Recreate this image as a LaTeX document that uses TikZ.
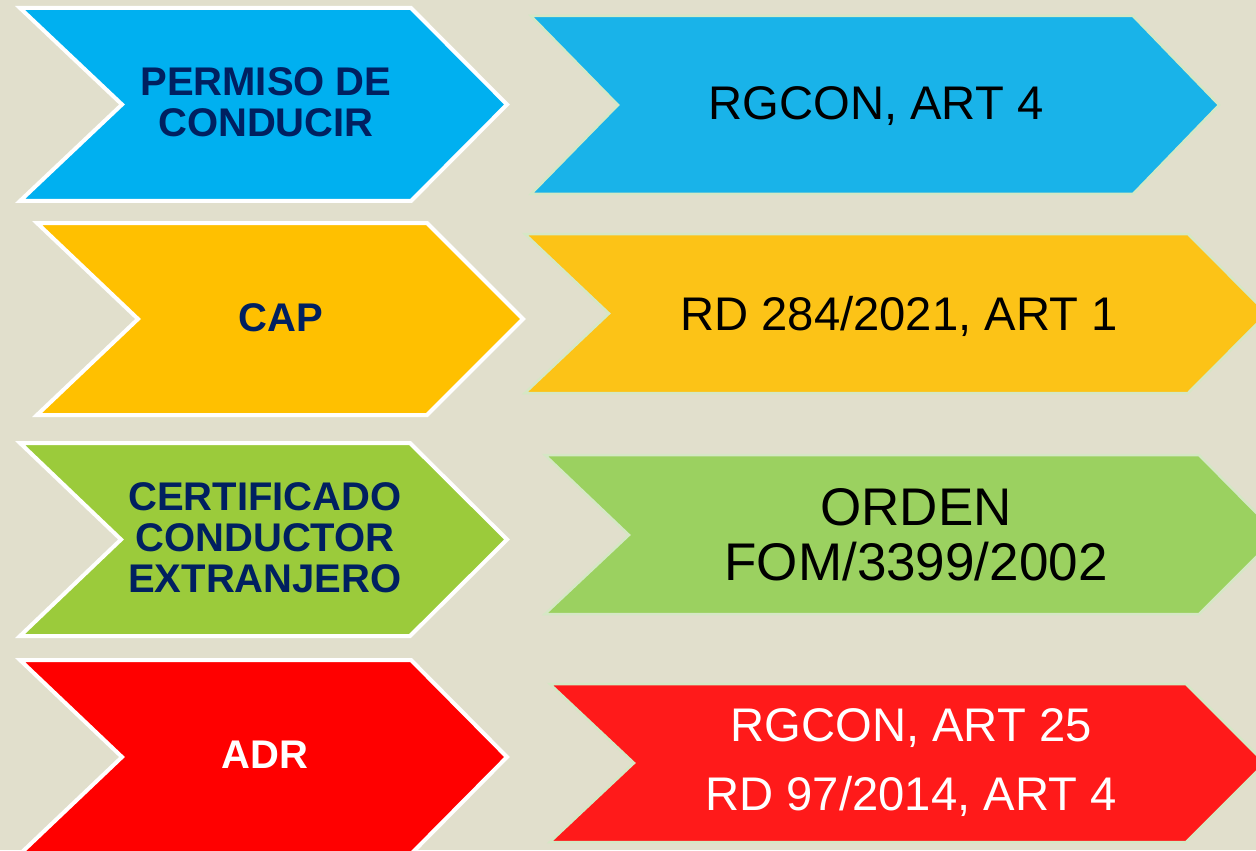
\documentclass[tikz,border=0pt]{standalone}
\usepackage{fontspec}
\setmainfont{Liberation Sans}
\definecolor{bgbeige}{HTML}{E1DFCC}
\definecolor{navytext}{HTML}{002060}
\definecolor{rimgreen}{HTML}{D5E7C5}
\definecolor{blueL}{HTML}{00B0F0}
\definecolor{blueR}{HTML}{19B3E9}
\definecolor{yellowL}{HTML}{FFC000}
\definecolor{yellowR}{HTML}{FCC317}
\definecolor{greenL}{HTML}{9BCB3B}
\definecolor{greenR}{HTML}{9BD160}
\definecolor{redL}{HTML}{FF0000}
\definecolor{redR}{HTML}{FF1A1A}
\tikzset{
  leftarrow/.style={draw=white, line width=2pt, line join=miter},
  rightarrow/.style={draw=rimgreen, line width=1.25pt, line join=miter},
  lefttext/.style={text=navytext, align=center, inner sep=0pt,
    font=\bfseries\fontsize{20}{20.5}\selectfont},
  righttext/.style={text=black, align=center, inner sep=0pt,
    font=\fontsize{23.6}{27}\selectfont}
}
\begin{document}
\begin{tikzpicture}[x=0.5pt,y=-0.5pt]
\useasboundingbox (0,0) rectangle (1256,850);
\fill[bgbeige] (0,0) rectangle (1256,850);
\clip (0,0) rectangle (1256,850);
\path[leftarrow,fill=blueL] (20,8) -- (411,8) -- (507,104.5) -- (411,201) -- (20,201) -- (122,104.5) -- cycle;
\path[leftarrow,fill=yellowL] (37,223) -- (427,223) -- (523,319) -- (427,415) -- (37,415) -- (138,319) -- cycle;
\path[leftarrow,fill=greenL] (20,443) -- (410,443) -- (507,539.5) -- (410,636) -- (20,636) -- (121,539.5) -- cycle;
\path[leftarrow,fill=redL] (20,660) -- (411,660) -- (507,757) -- (411,854) -- (20,854) -- (122,757) -- cycle;
\path[rightarrow,fill=blueR] (531,16) -- (1133,16) -- (1219,105) -- (1133,194) -- (531,194) -- (618,105) -- cycle;
\path[rightarrow,fill=yellowR] (525,234) -- (1188,234) -- (1267,313.5) -- (1188,393) -- (525,393) -- (609,313.5) -- cycle;
\path[rightarrow,fill=greenR] (545,455) -- (1199,455) -- (1278,535) -- (1199,614) -- (545,614) -- (629,535) -- cycle;
\path[rightarrow,fill=redR] (550,684) -- (1186,684) -- (1265,763) -- (1186,842) -- (550,842) -- (634,763) -- cycle;
\node[lefttext] (permiso) at (266,102.5) {PERMISO DE\\CONDUCIR};
\node[lefttext] (cap) at (281,318) {CAP};
\node[lefttext] (certificado) at (265,538) {CERTIFICADO\\CONDUCTOR\\EXTRANJERO};
\node[lefttext,text=white] (adr) at (265,755) {ADR};
\node[righttext] (rgcon) at (876,106) {RGCON, ART 4};
\node[righttext] (rdcap) at (899,316) {RD 284/2021, ART 1};
\node[righttext,font=\fontsize{26.5}{27.5}\selectfont] (orden) at (916,535) {ORDEN\\FOM/3399/2002};
\node[righttext,text=white,font=\fontsize{23.6}{34.5}\selectfont] (rdadr) at (911,763) {RGCON, ART 25\\RD 97/2014, ART 4};
\end{tikzpicture}
\end{document}
